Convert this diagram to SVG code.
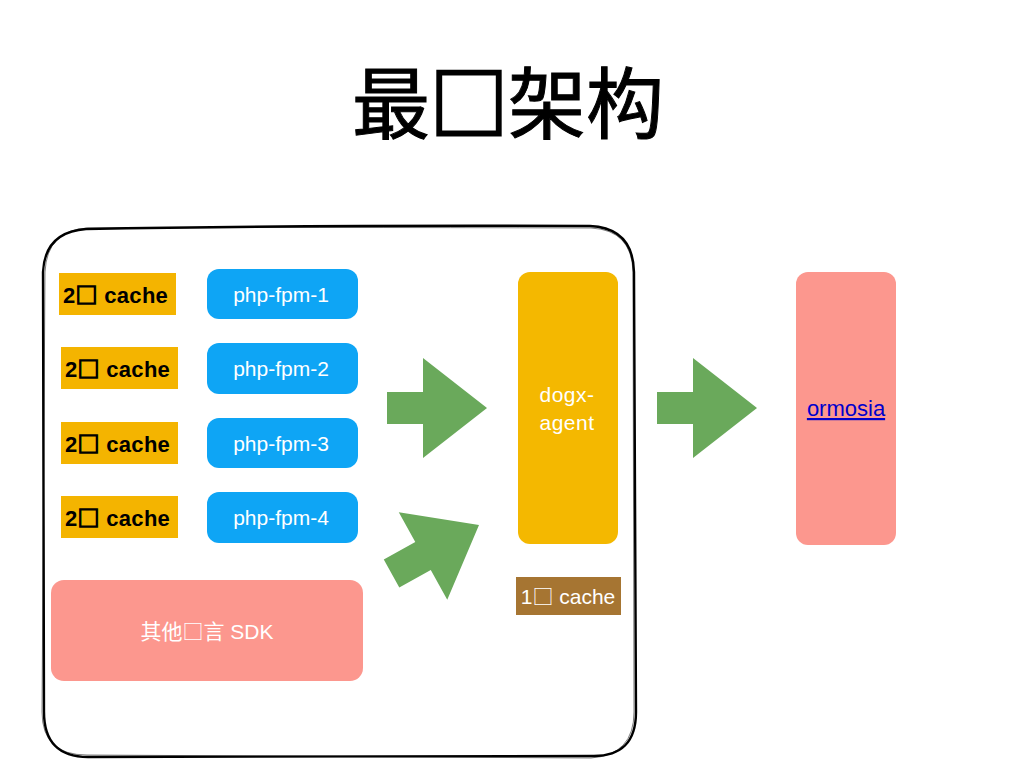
<svg xmlns="http://www.w3.org/2000/svg" width="1024" height="768" viewBox="0 0 1024 768">
<style>
  .l2 { fill: #f4b400; }
  .l2t { font-family: "Liberation Sans", Arial, "Noto Sans CJK SC", sans-serif; font-size: 22px; font-weight: bold; fill: #000; letter-spacing: 0.3px; }
  .l2t .cjk { stroke: #000; stroke-width: 1.3px; }
  .fpm { fill: #0ea5f5; }
  .wt { font-family: "Liberation Sans", Arial, "Noto Sans CJK SC", sans-serif; font-size: 21px; fill: #fff; text-anchor: middle; }
  .cjk { font-family: "Noto Sans CJK SC", sans-serif; }
  .pink { fill: #fc978e; }
  .arrow { fill: #6aa95b; }
</style>
<defs>
  <path id="arr" d="M-100,-16 L-64,-16 L-64,-50 L0,0 L-64,50 L-64,16 L-100,16 Z"/>
</defs>
<rect width="1024" height="768" fill="#fff"/>
<text x="508" y="133" text-anchor="middle" font-family="'Noto Sans CJK SC', 'Noto Sans CJK JP', sans-serif" font-size="78" fill="#000" stroke="#000" stroke-width="1">最<tspan stroke-width="3">□</tspan>架构</text>

<g id="container">
  <path d="M86,229 Q300,225 590,226 Q633,228 634,272 L636,712 Q636,757 592,756 L88,757 Q44,757 44,712 L43,272 Q45,232 86,229 Z" fill="none" stroke="#000" stroke-width="2.4"/>
  <path d="M88,228 Q300,227 591,228 Q632,230 633,272 L634,712 Q634,755 591,758 L87,755 Q42,755 42,712 L45,272 Q47,230 88,228 Z" fill="none" stroke="#000" stroke-width="1" opacity="0.5"/>
</g>

<g id="cache2-1"><rect class="l2" x="59" y="273" width="117" height="42"/><text class="l2t" x="63" y="303">2<tspan class="cjk">□</tspan> cache</text></g>
<g id="cache2-2"><rect class="l2" x="61" y="347" width="117" height="42"/><text class="l2t" x="65" y="377">2<tspan class="cjk">□</tspan> cache</text></g>
<g id="cache2-3"><rect class="l2" x="61" y="422" width="117" height="42"/><text class="l2t" x="65" y="452">2<tspan class="cjk">□</tspan> cache</text></g>
<g id="cache2-4"><rect class="l2" x="61" y="496" width="117" height="42"/><text class="l2t" x="65" y="526">2<tspan class="cjk">□</tspan> cache</text></g>

<g id="fpm1"><rect class="fpm" x="207" y="269" width="151" height="50" rx="12"/><text class="wt" x="281" y="302">php-fpm-1</text></g>
<g id="fpm2"><rect class="fpm" x="207" y="343" width="151" height="51" rx="12"/><text class="wt" x="281" y="376">php-fpm-2</text></g>
<g id="fpm3"><rect class="fpm" x="207" y="418" width="151" height="50" rx="12"/><text class="wt" x="281" y="451">php-fpm-3</text></g>
<g id="fpm4"><rect class="fpm" x="207" y="492" width="151" height="51" rx="12"/><text class="wt" x="281" y="525">php-fpm-4</text></g>

<g id="sdk"><rect class="pink" x="51" y="580" width="312" height="101" rx="13"/><text class="wt" x="207" y="639" font-size="21"><tspan class="cjk">其他□言</tspan> SDK</text></g>

<g id="agent"><rect x="518" y="272" width="100" height="272" rx="12" fill="#f4b800"/><text class="wt" x="567" y="402" font-size="20" letter-spacing="0.5">dogx-</text><text class="wt" x="567" y="430" font-size="20" letter-spacing="0.5">agent</text></g>

<g id="cache1"><rect x="516" y="577" width="105" height="38" fill="#a67532"/><text class="wt" x="568" y="604" font-size="20">1<tspan class="cjk">□</tspan> cache</text></g>

<g id="ormosia"><rect class="pink" x="796" y="272" width="100" height="273" rx="12"/><text x="846" y="416" text-anchor="middle" font-family="'Liberation Sans', Arial, sans-serif" font-size="22" fill="#0000cc" text-decoration="underline">ormosia</text></g>

<g id="connectors">
  <use href="#arr" class="arrow" transform="translate(487,408)"/>
  <use href="#arr" class="arrow" transform="translate(479,525) rotate(-29)"/>
  <use href="#arr" class="arrow" transform="translate(757,408)"/>
</g>
</svg>
